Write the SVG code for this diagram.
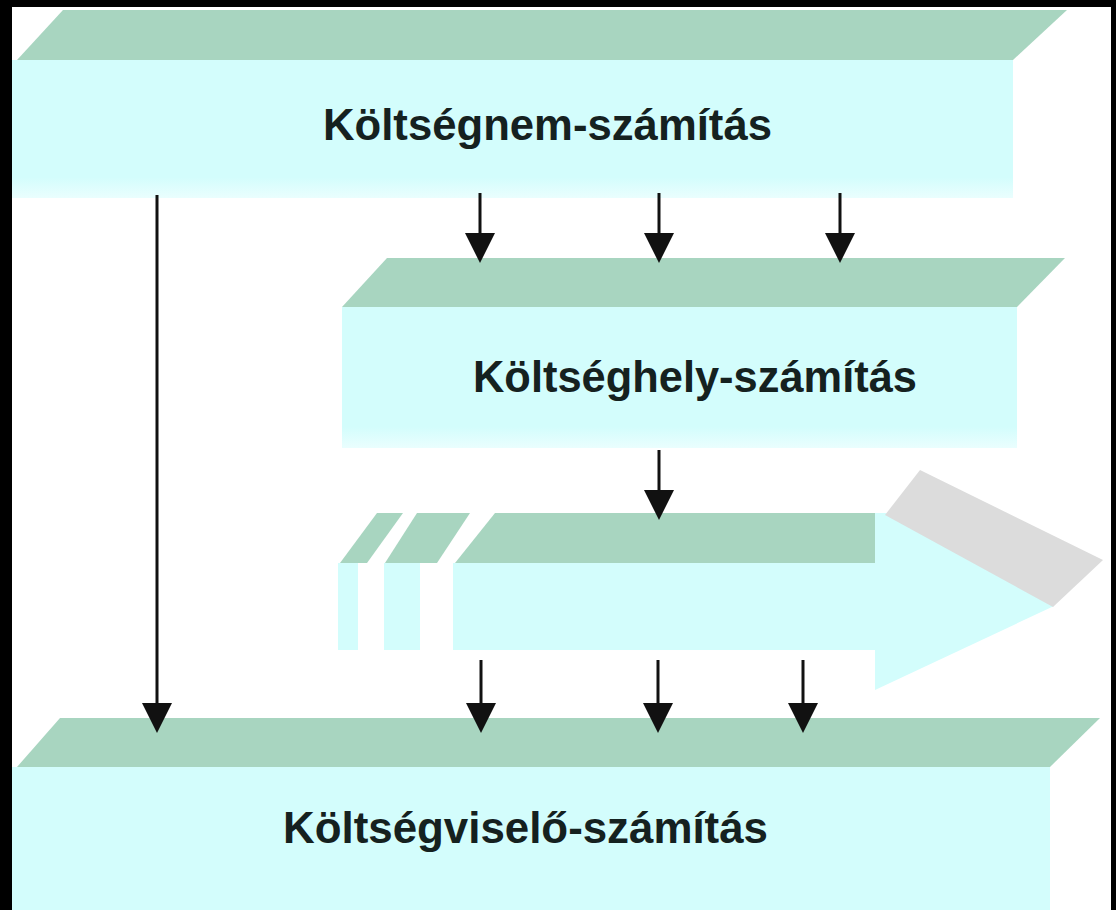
<svg xmlns="http://www.w3.org/2000/svg" width="1116" height="910" viewBox="0 0 1116 910">
  <defs>
    <style>
      .top { fill: #a8d5c0; }
      .front { fill: #d3fdfc; }
      .label { font-family: "Liberation Sans", Arial, sans-serif; font-weight: bold; font-size: 44px; fill: #15211f; }
      .conn { stroke: #111; stroke-width: 3; fill: none; }
      .gray { fill: #dcdcdc; }
    </style>
    <marker id="arrow" viewBox="0 0 30 30" refX="20" refY="15" markerWidth="30" markerHeight="30" markerUnits="userSpaceOnUse" orient="auto">
      <path d="M0,0 L30,15 L0,30 Z" fill="#111"/>
    </marker>
    <linearGradient id="fadeV" x1="0" y1="0" x2="0" y2="1">
      <stop offset="0" stop-color="#d3fdfc"/>
      <stop offset="0.85" stop-color="#d3fdfc"/>
      <stop offset="1" stop-color="#eafefe"/>
    </linearGradient>
  </defs>

  <rect x="0" y="0" width="1116" height="910" fill="#000"/>
  <rect x="12" y="7" width="1099" height="903" fill="#fff"/>

  <g id="koltsegnem">
    <polygon class="top" points="63,10 1067,10 1013,60 17,60"/>
    <rect x="12" y="60" width="1001" height="138" fill="url(#fadeV)"/>
    <text class="label" x="323" y="140" textLength="449" lengthAdjust="spacingAndGlyphs">Költségnem-számítás</text>
  </g>

  <g id="koltseghely">
    <polygon class="top" points="387,258 1065,258 1017,307 342,307"/>
    <rect x="342" y="307" width="675" height="141" fill="url(#fadeV)"/>
    <text class="label" x="473" y="392" textLength="444" lengthAdjust="spacingAndGlyphs">Költséghely-számítás</text>
  </g>

  <g id="arrow-shape">
    <polygon class="top" points="377,513 403,513 367,563 340,563"/>
    <polygon class="top" points="417,513 470,513 437,563 385,563"/>
    <polygon class="top" points="495,513 875,513 875,563 455,563"/>
    <rect class="front" x="338" y="563" width="20" height="87"/>
    <rect class="front" x="384" y="563" width="36" height="87"/>
    <rect class="front" x="453" y="563" width="430" height="87"/>
    <polygon class="front" points="875,513 886,513 1054,606 875,690"/>
    <polygon class="gray" points="920,470 1103,560 1053,607 885,515"/>
  </g>

  <g id="koltsegviselo">
    <polygon class="top" points="60,718 1100,718 1050,767 17,767"/>
    <rect class="front" x="12" y="767" width="1038" height="143"/>
    <text class="label" x="283" y="843" textLength="485" lengthAdjust="spacingAndGlyphs">Költségviselő-számítás</text>
  </g>

  <g id="connectors">
    <line class="conn" x1="157" y1="195" x2="157" y2="723" marker-end="url(#arrow)"/>
    <line class="conn" x1="480" y1="193" x2="480" y2="253" marker-end="url(#arrow)"/>
    <line class="conn" x1="659" y1="193" x2="659" y2="253" marker-end="url(#arrow)"/>
    <line class="conn" x1="840" y1="193" x2="840" y2="253" marker-end="url(#arrow)"/>
    <line class="conn" x1="659" y1="450" x2="659" y2="510" marker-end="url(#arrow)"/>
    <line class="conn" x1="481" y1="660" x2="481" y2="723" marker-end="url(#arrow)"/>
    <line class="conn" x1="658" y1="660" x2="658" y2="723" marker-end="url(#arrow)"/>
    <line class="conn" x1="803" y1="660" x2="803" y2="723" marker-end="url(#arrow)"/>
  </g>
</svg>
